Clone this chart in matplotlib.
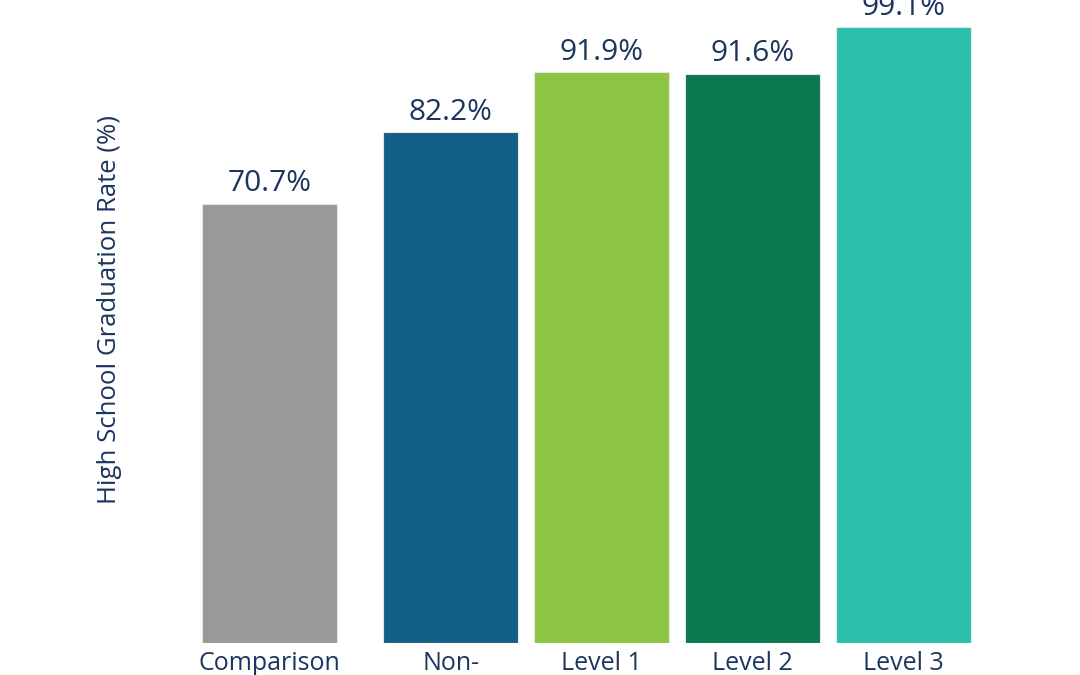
import matplotlib
matplotlib.use("Agg")
import matplotlib.pyplot as plt

plt.rcParams['font.family'] = ['Open Sans', 'DejaVu Sans']

categories = ['Comparison', 'Non-', 'Level 1', 'Level 2', 'Level 3']
positions = [0, 1.2, 2.2, 3.2, 4.2]
rates = [70.7, 82.2, 91.9, 91.6, 99.1]
colors = ['#999999', '#136086', '#8DC543', '#0A794D', '#2DBFAD']
text_color = '#1C355E'

fig = plt.figure(figsize=(10.8, 6.75), dpi=100)
ax = fig.add_axes([0, 32 / 675, 1, 643 / 675])

bars = ax.bar(positions, rates, width=0.894, color=colors,
              edgecolor='#e6e6e6', linewidth=0.8)
for b, v in zip(bars, rates):
    ax.annotate(f'{v}%', (b.get_x() + b.get_width() / 2, v),
                xytext=(0, 4), textcoords='offset points',
                ha='center', va='bottom', fontsize=21.5, color=text_color)

ax.set_xlim(-269.5 / 151, (1080 - 269.5) / 151)
ax.set_ylim(0, 103.5)
ax.set_xticks(positions)
ax.set_xticklabels(categories, fontsize=18, color=text_color)
ax.tick_params(axis='x', length=0, pad=6)
ax.set_yticks([])
for s in ax.spines.values():
    s.set_visible(False)

fig.text(110 / 1080, 1 - 310 / 675, 'High School Graduation Rate (%)',
         rotation=90, ha='center', va='center', fontsize=18.5, color=text_color)

fig.savefig('out.png', dpi=100)
